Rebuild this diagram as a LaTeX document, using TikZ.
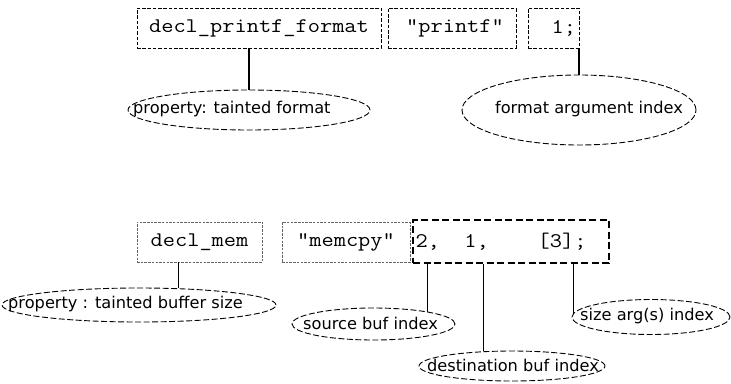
\documentclass[tikz,border=0pt]{standalone}
\usepackage{fontspec}
\usepackage{graphicx}
\usetikzlibrary{shapes.geometric}
\newfontfamily\lblfont{DejaVu Sans}
\newcommand{\chsp}{\phantom{0}}
\newcommand{\codetxt}[1]{\scalebox{1.14}[1]{#1}}
\tikzset{
  codebox/.style={draw, inner sep=0pt, font=\ttfamily\fontsize{20.8}{24}\selectfont, line width=0.9pt, dash pattern=on 3.5pt off 1.8pt},
  graybox/.style={codebox, draw=black!60, dash pattern=on 2.5pt off 1.2pt},
  thickbox/.style={codebox, line width=1.8pt, dash pattern=on 7pt off 3.5pt},
  oval/.style={draw, ellipse, inner sep=0pt, line width=0.9pt, dash pattern=on 6pt off 2.5pt},
  lbl/.style={inner sep=0pt, font=\lblfont\fontsize{16.2}{18}\selectfont},
  conn/.style={draw, line width=1.1pt}
}
\begin{document}
\begin{tikzpicture}[x=1pt,y=-1pt]
\useasboundingbox (0,0) rectangle (731,383);
% top row
\node[codebox, minimum width=244pt, minimum height=40pt] (fmt) at (259,28) {\codetxt{decl\_printf\_format}};
\node[codebox, minimum width=128pt, minimum height=40pt] (pf) at (452,28) {\hspace*{6pt}\codetxt{"printf"}};
\node[codebox, minimum width=51pt, minimum height=40pt, text width=45pt, align=right] (idx) at (553.5,28) {\codetxt{1;}};
% top ellipses
\node[oval, minimum width=242pt, minimum height=40pt] (eA) at (249,110) {};
\node[lbl, anchor=west] (tA) at (133,109) {property: tainted format};
\node[oval, minimum width=234pt, minimum height=70pt] (eB) at (579,110) {};
\node[lbl] (tB) at (589,109) {format argument index};
\draw[conn] (eA.north) -- (eA.north |- fmt.south);
\draw[conn] (eB.north) -- (eB.north |- idx.south);
% bottom row
\node[graybox, minimum width=125pt, minimum height=40pt] (mem) at (199.5,242) {\codetxt{decl\_mem}};
\node[graybox, minimum width=128pt, minimum height=40pt] (mcpy) at (346,242) {\codetxt{"memcpy"}};
\node[thickbox, minimum width=196pt, minimum height=43pt, text width=191pt, align=left] (args) at (511,241.5) {\codetxt{2,\chsp\chsp1,\chsp\chsp\chsp\chsp[3];}};
% bottom ellipses
\node[oval, minimum width=274pt, minimum height=34pt] (eC) at (139,305) {};
\node[lbl, anchor=west] (tC) at (8,304) {property : tainted buffer size};
\node[oval, minimum width=163pt, minimum height=32pt] (eD) at (373.5,324) {};
\node[lbl, anchor=west] (tD) at (303,323) {source buf index};
\node[oval, minimum width=186pt, minimum height=30pt] (eE) at (512,366) {};
\node[lbl, anchor=west] (tE) at (427,365) {destination buf index};
\node[oval, minimum width=158pt, minimum height=35pt] (eF) at (651,317) {};
\node[lbl, anchor=west] (tF) at (580,316) {size arg(s) index};
\draw[conn] (eC.23) -- (eC.23 |- mem.south);
\draw[conn] (eD.13) -- (eD.13 |- args.south);
\draw[conn] (eE.153) -- (eE.153 |- args.south);
\draw[conn] (eF.177) -- (eF.177 |- args.south);
\end{tikzpicture}
\end{document}
